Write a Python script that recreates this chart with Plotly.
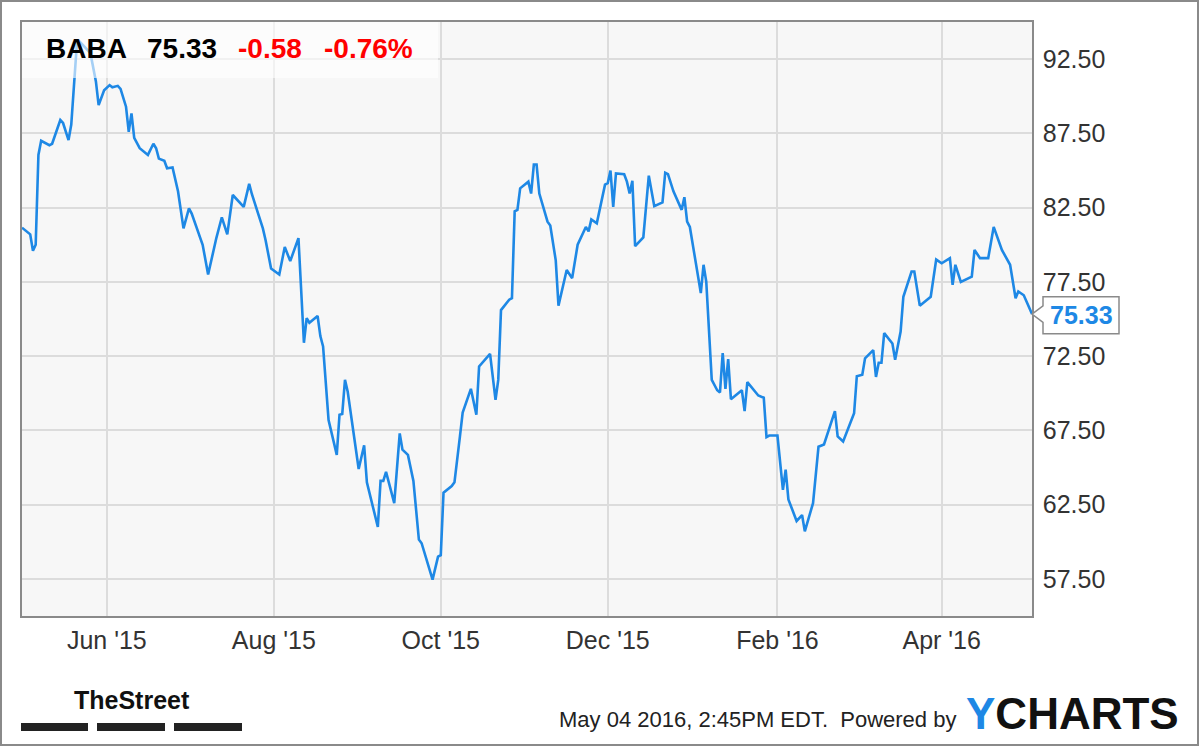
import plotly.graph_objects as go

# BABA daily close, May 2015 - May 2016
dates = [
    "2015-05-01", "2015-05-04", "2015-05-05", "2015-05-06", "2015-05-07", "2015-05-08",
    "2015-05-11", "2015-05-12", "2015-05-15", "2015-05-16", "2015-05-18", "2015-05-19",
    "2015-05-21", "2015-05-22", "2015-05-26", "2015-05-28", "2015-05-29", "2015-05-31",
    "2015-06-02", "2015-06-03", "2015-06-05", "2015-06-06", "2015-06-08", "2015-06-09",
    "2015-06-10", "2015-06-11", "2015-06-13", "2015-06-16", "2015-06-18", "2015-06-19",
    "2015-06-20", "2015-06-22", "2015-06-23", "2015-06-25", "2015-06-27", "2015-06-29",
    "2015-07-01", "2015-07-02", "2015-07-06", "2015-07-08", "2015-07-11", "2015-07-13",
    "2015-07-15", "2015-07-17", "2015-07-21", "2015-07-23", "2015-07-24", "2015-07-28",
    "2015-07-29", "2015-07-31", "2015-08-03", "2015-08-05", "2015-08-07", "2015-08-10",
    "2015-08-12", "2015-08-13", "2015-08-14", "2015-08-17", "2015-08-18", "2015-08-19",
    "2015-08-21", "2015-08-24", "2015-08-25", "2015-08-26", "2015-08-27", "2015-08-28",
    "2015-09-01", "2015-09-03", "2015-09-04", "2015-09-08", "2015-09-09", "2015-09-10",
    "2015-09-11", "2015-09-14", "2015-09-16", "2015-09-17", "2015-09-19", "2015-09-21",
    "2015-09-23", "2015-09-24", "2015-09-28", "2015-09-30", "2015-10-01", "2015-10-02",
    "2015-10-05", "2015-10-06", "2015-10-08", "2015-10-09", "2015-10-12", "2015-10-14",
    "2015-10-15", "2015-10-19", "2015-10-21", "2015-10-22", "2015-10-23", "2015-10-26",
    "2015-10-27", "2015-10-28", "2015-10-29", "2015-10-30", "2015-11-02", "2015-11-03",
    "2015-11-04", "2015-11-05", "2015-11-06", "2015-11-09", "2015-11-10", "2015-11-12",
    "2015-11-13", "2015-11-16", "2015-11-18", "2015-11-20", "2015-11-23", "2015-11-24",
    "2015-11-25", "2015-11-27", "2015-11-30", "2015-12-01", "2015-12-02", "2015-12-03",
    "2015-12-04", "2015-12-07", "2015-12-08", "2015-12-09", "2015-12-10", "2015-12-11",
    "2015-12-14", "2015-12-16", "2015-12-18", "2015-12-21", "2015-12-22", "2015-12-23",
    "2015-12-25", "2015-12-28", "2015-12-29", "2015-12-30", "2015-12-31", "2016-01-04",
    "2016-01-05", "2016-01-06", "2016-01-08", "2016-01-10", "2016-01-11", "2016-01-12",
    "2016-01-13", "2016-01-14", "2016-01-15", "2016-01-19", "2016-01-20", "2016-01-21",
    "2016-01-25", "2016-01-27", "2016-01-28", "2016-01-29", "2016-02-01", "2016-02-03",
    "2016-02-04", "2016-02-05", "2016-02-08", "2016-02-10", "2016-02-11", "2016-02-14",
    "2016-02-16", "2016-02-18", "2016-02-22", "2016-02-23", "2016-02-25", "2016-02-29",
    "2016-03-01", "2016-03-03", "2016-03-04", "2016-03-07", "2016-03-08", "2016-03-09",
    "2016-03-10", "2016-03-11", "2016-03-14", "2016-03-15", "2016-03-17", "2016-03-18",
    "2016-03-21", "2016-03-22", "2016-03-24", "2016-03-28", "2016-03-30", "2016-04-01",
    "2016-04-04", "2016-04-05", "2016-04-06", "2016-04-08", "2016-04-12", "2016-04-13",
    "2016-04-15", "2016-04-18", "2016-04-20", "2016-04-23", "2016-04-26", "2016-04-28",
    "2016-04-29", "2016-05-01", "2016-05-04",
]
prices = [
    81.15, 80.7, 79.6, 80.0, 86.05, 87.0,
    86.7, 86.8, 88.4, 88.2, 87.05, 88.1,
    93.4, 93.7, 92.9, 91.0, 89.4, 90.4,
    90.75, 90.6, 90.7, 90.5, 89.3, 87.6,
    88.85, 87.2, 86.5, 86.05, 86.8, 86.5,
    85.8, 85.65, 85.15, 85.2, 83.6, 81.1,
    82.45, 82.1, 80.0, 78.0, 80.45, 81.85,
    80.7, 83.35, 82.55, 84.1, 83.4, 81.1,
    80.3, 78.4, 78.0, 79.85, 78.9, 80.45,
    73.4, 75.05, 74.75, 75.2, 73.85, 73.15,
    68.2, 65.85, 68.55, 68.6, 70.9, 70.1,
    64.9, 66.5, 64.0, 61.0, 64.1, 64.1,
    64.7, 62.6, 67.3, 66.2, 65.85, 64.1,
    60.15, 59.9, 57.45, 59.0, 59.1, 63.3,
    63.75, 64.0, 67.1, 68.7, 70.3, 68.55,
    71.8, 72.65, 69.55, 70.9, 75.6, 76.3,
    76.4, 82.25, 82.35, 83.8, 84.25, 83.45,
    85.4, 85.4, 83.45, 81.55, 81.3, 78.95,
    75.9, 78.3, 77.75, 80.0, 81.2, 80.9,
    81.7, 81.45, 84.05, 84.15, 85.0, 82.55,
    84.8, 84.75, 84.25, 83.45, 84.3, 79.9,
    80.5, 84.65, 82.6, 82.85, 84.85, 84.75,
    83.6, 82.35, 83.2, 81.55, 81.2, 76.75,
    78.65, 77.5, 70.9, 70.2, 70.05, 72.7,
    70.3, 72.3, 69.6, 70.2, 68.8, 70.75,
    69.85, 69.7, 67.05, 67.15, 67.15, 63.5,
    64.85, 62.85, 61.4, 61.8, 60.7, 62.6,
    66.4, 66.55, 68.8, 67.1, 66.75, 68.65,
    71.15, 71.25, 72.35, 72.9, 71.1, 72.05,
    72.05, 74.05, 73.35, 72.25, 74.15, 76.5,
    78.2, 78.2, 75.9, 76.5, 79.0, 78.75,
    79.1, 77.3, 78.65, 77.5, 77.85, 79.65,
    79.1, 79.1, 81.2, 79.65, 78.65, 76.4,
    76.85, 76.6, 75.33,
]

ticker = "BABA"
last_price = 75.33
change = "-0.58"
change_pct = "-0.76%"
tick_dates = ["2015-06-01", "2015-08-01", "2015-10-01", "2015-12-01", "2016-02-01", "2016-04-01"]
y_ticks = [57.5, 62.5, 67.5, 72.5, 77.5, 82.5, 87.5, 92.5]

W, H = 1200, 747
L, R, T, B = 22, 1032, 22, 616
BLUE = "#1e88e5"
FONT = "Liberation Sans, Arial, sans-serif"


def px(x):
    return (x - L) / (R - L)


def py(y):
    return (B - y) / (B - T)


fig = go.Figure()
fig.add_trace(go.Scatter(
    x=dates, y=prices, mode="lines",
    line=dict(color=BLUE, width=2.6),
    hoverinfo="x+y",
))

shapes = [
    # outer frame
    dict(type="rect", xref="paper", yref="paper",
         x0=px(1), x1=px(1198), y0=py(745), y1=py(1),
         line=dict(color="#8a8a8a", width=2), fillcolor="rgba(0,0,0,0)", layer="below"),
    # header veil
    dict(type="rect", xref="paper", yref="paper",
         x0=0, x1=px(438), y0=py(78), y1=1,
         line=dict(width=0), fillcolor="rgba(255,255,255,0.6)", layer="above"),
    # last price pointer box
    dict(type="path", xref="paper", yref="y",
         path=(f"M {px(1032)} {last_price} L {px(1043)} {last_price + 0.56} "
               f"L {px(1043)} {last_price + 1.16} L {px(1119)} {last_price + 1.16} "
               f"L {px(1119)} {last_price - 1.33} L {px(1043)} {last_price - 1.33} "
               f"L {px(1043)} {last_price - 0.56} Z"),
         line=dict(color="#8a8a8a", width=1.5), fillcolor="white", layer="above"),
]
# TheStreet underline bars
for x0, x1 in [(21, 88), (97, 165), (174, 242)]:
    shapes.append(dict(type="rect", xref="paper", yref="paper",
                       x0=px(x0), x1=px(x1), y0=py(731), y1=py(723),
                       line=dict(width=0), fillcolor="#222222"))

annotations = []
header = [
    (44, ticker, "black"),
    (145, f"{last_price:.2f}", "black"),
    (236, change, "#ff0000"),
    (322, change_pct, "#ff0000"),
]
for x, txt, col in header:
    annotations.append(dict(xref="paper", yref="paper", x=px(x), y=py(49),
                            xanchor="left", yanchor="middle", showarrow=False,
                            text=f"<b>{txt}</b>", font=dict(family=FONT, size=28, color=col)))

annotations += [
    dict(xref="paper", yref="y", x=px(1081), y=last_price - 0.08,
         xanchor="center", yanchor="middle", showarrow=False,
         text=f"<b>{last_price:.2f}</b>", font=dict(family=FONT, size=25, color=BLUE)),
    dict(xref="paper", yref="paper", x=px(72), y=py(700),
         xanchor="left", yanchor="middle", showarrow=False,
         text="<b>TheStreet</b>", font=dict(family=FONT, size=25, color="#111111")),
    dict(xref="paper", yref="paper", x=px(958), y=py(719),
         xanchor="right", yanchor="middle", showarrow=False,
         text="May 04 2016, 2:45PM EDT.  Powered by",
         font=dict(family=FONT, size=22, color="#222222")),
    dict(xref="paper", yref="paper", x=px(964), y=py(713),
         xanchor="left", yanchor="middle", showarrow=False,
         text=f"<b><span style='color:{BLUE}'>Y</span>CHARTS</b>",
         font=dict(family=FONT, size=44, color="#111111")),
]

fig.update_layout(
    width=W, height=H,
    margin=dict(l=L, r=W - R, t=T, b=H - B),
    paper_bgcolor="white",
    plot_bgcolor="#f7f7f7",
    showlegend=False,
    shapes=shapes,
    annotations=annotations,
    xaxis=dict(
        type="date",
        range=["2015-05-01", "2016-05-04"],
        tickvals=tick_dates,
        tickformat="%b '%y",
        showgrid=True, gridcolor="#dcdcdc", gridwidth=1.5,
        showline=True, linecolor="#8a8a8a", linewidth=1.5, mirror=True,
        ticks="", ticklabelstandoff=1,
        tickfont=dict(family=FONT, size=25, color="#333333"),
        zeroline=False,
    ),
    yaxis=dict(
        side="right",
        range=[55, 95],
        tickvals=y_ticks,
        tickformat=".2f",
        showgrid=True, gridcolor="#dcdcdc", gridwidth=1.5,
        showline=True, linecolor="#8a8a8a", linewidth=1.5, mirror=True,
        ticks="", ticklabelstandoff=4,
        tickfont=dict(family=FONT, size=25, color="#333333"),
        zeroline=False,
    ),
)

fig.write_html("out.html", config={"displayModeBar": False},
               post_script="document.body.style.margin = '0';")
